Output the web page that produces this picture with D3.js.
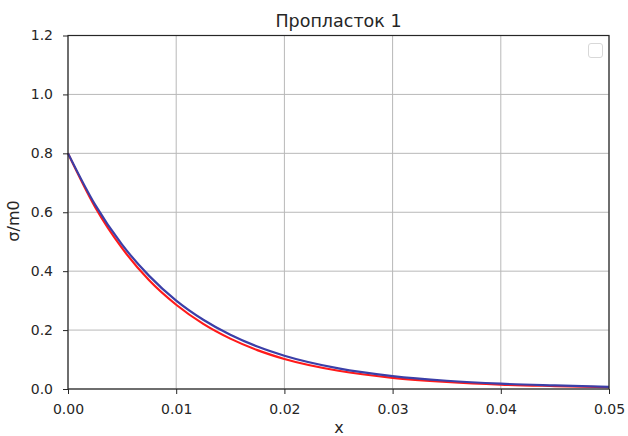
<!DOCTYPE html>
<html>
<head>
<meta charset="utf-8">
<script src="https://cdn.jsdelivr.net/npm/d3@7"></script>
<style>
  body { margin: 0; background: #fff; }
  svg { font-family: "DejaVu Sans", sans-serif; }
</style>
</head>
<body>
<svg id="chart" width="628" height="436"></svg>
<script>
// values
const X_VALUES = [0, 0.0025, 0.005, 0.0075, 0.01, 0.0125, 0.015, 0.0175, 0.02, 0.025, 0.03, 0.035, 0.04, 0.045, 0.05];
const RED_VALUES = [0.80, 0.618, 0.478, 0.369, 0.286, 0.221, 0.171, 0.132, 0.102, 0.062, 0.038, 0.024, 0.015, 0.010, 0.006];
const BLUE_VALUES = [0.80, 0.626, 0.490, 0.384, 0.300, 0.235, 0.184, 0.144, 0.113, 0.070, 0.044, 0.028, 0.018, 0.012, 0.007];
const X_TICKS = [0, 0.01, 0.02, 0.03, 0.04, 0.05];
const Y_TICKS = [0, 0.2, 0.4, 0.6, 0.8, 1.0, 1.2];
const TITLE = 'Пропласток 1';

const svg = d3.select('#chart');
const m = { left: 68, top: 35.5, right: 609, bottom: 389 };

const x = d3.scaleLinear().domain([0, 0.05]).range([m.left, m.right]);
const y = d3.scaleLinear().domain([0, 1.2]).range([m.bottom, m.top]);

// grid
const grid = svg.append('g');
grid.selectAll('line.gx').data(X_TICKS).join('line')
  .attr('x1', d => x(d)).attr('x2', d => x(d))
  .attr('y1', m.top).attr('y2', m.bottom)
  .attr('stroke', '#b8b8b8').attr('stroke-width', 1);
grid.selectAll('line.gy').data(Y_TICKS).join('line')
  .attr('y1', d => y(d)).attr('y2', d => y(d))
  .attr('x1', m.left).attr('x2', m.right)
  .attr('stroke', '#b8b8b8').attr('stroke-width', 1);

// curves
const pts = vals => X_VALUES.map((v, i) => [v, vals[i]]);
const line = d3.line().x(d => x(d[0])).y(d => y(d[1])).curve(d3.curveMonotoneX);
svg.append('path').attr('d', line(pts(RED_VALUES)))
  .attr('fill', 'none').attr('stroke', '#ff1a1a').attr('stroke-width', 2.2);
svg.append('path').attr('d', line(pts(BLUE_VALUES)))
  .attr('fill', 'none').attr('stroke', '#3b3fa8').attr('stroke-width', 2.2);

// axes
const xAxis = d3.axisBottom(x).tickValues(X_TICKS).tickFormat(d3.format('.2f')).tickSize(5).tickPadding(10);
const yAxis = d3.axisLeft(y).tickValues(Y_TICKS).tickFormat(d3.format('.1f')).tickSize(5).tickPadding(10);
const gx = svg.append('g').attr('transform', `translate(0,${m.bottom})`).call(xAxis);
const gy = svg.append('g').attr('transform', `translate(${m.left},0)`).call(yAxis);
[gx, gy].forEach(g => {
  g.select('.domain').remove();
  g.selectAll('text').attr('font-size', 14).attr('fill', '#262626').attr('font-family', '"DejaVu Sans", sans-serif');
  g.selectAll('line').attr('stroke', '#262626').attr('stroke-width', 1);
});

// frame
svg.append('rect').attr('x', m.left).attr('y', m.top)
  .attr('width', m.right - m.left).attr('height', m.bottom - m.top)
  .attr('fill', 'none').attr('stroke', '#262626').attr('stroke-width', 1.2);

// empty legend box
svg.append('rect').attr('x', 588.5).attr('y', 43.5).attr('width', 14).attr('height', 14)
  .attr('rx', 2.5).attr('fill', 'none').attr('stroke', '#d8d8d8').attr('stroke-width', 1);

// labels
svg.append('text').attr('x', 338.5).attr('y', 27)
  .attr('text-anchor', 'middle').attr('font-size', 17.5).attr('fill', '#262626').text(TITLE);
svg.append('text').attr('x', 339).attr('y', 433)
  .attr('text-anchor', 'middle').attr('font-size', 16).attr('fill', '#262626').text('x');
svg.append('text').attr('transform', `translate(19,221) rotate(-90)`)
  .attr('text-anchor', 'middle').attr('font-size', 16).attr('fill', '#262626').text('σ/m0');
</script>
</body>
</html>
